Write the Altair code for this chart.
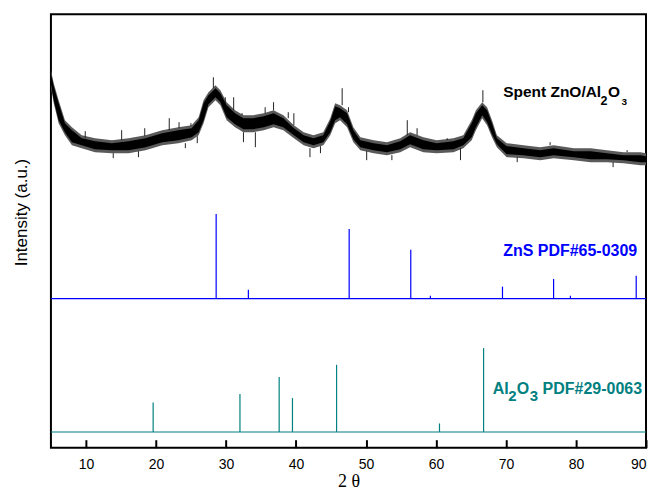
import altair as alt
import pandas as pd

# ---- Spent ZnO/Al2O3 pattern (a.u.) ----
spent_x = [5.0, 5.4, 6.1, 7.0, 8.0, 9.4, 11.3, 13.7, 16.1, 18.5, 20.9, 23.2, 25.1, 26.1,
           26.8, 27.5, 28.5, 29.2, 30.1, 31.3, 32.5, 33.9, 35.4, 36.8, 38.2, 39.7, 41.1,
           42.5, 43.9, 44.9, 45.6, 46.3, 47.3, 48.2, 49.2, 51.1, 53.0, 54.9, 56.3, 58.2,
           60.1, 62.5, 63.9, 65.1, 65.7, 66.6, 67.3, 68.0, 68.7, 70.1, 72.5, 74.9, 76.8,
           79.7, 82.1, 84.4, 86.8, 89.2, 90.0]
# outer envelope of the noisy trace (upper / lower edge)
spent_top = [378, 365, 348, 328, 321, 313, 310, 308, 310, 313, 318, 321, 323, 331,
             348, 356, 363, 358, 346, 338, 333, 333, 335, 338, 333, 323, 316,
             313, 316, 330, 345, 343, 338, 321, 311, 308, 306, 310, 316, 311,
             308, 310, 313, 328, 338, 346, 341, 328, 313, 305, 303, 301, 303,
             300, 300, 298, 296, 296, 295]
spent_bot = [361, 345, 325, 313, 303, 300, 296, 295, 295, 298, 303, 305, 308, 313,
             325, 341, 348, 343, 328, 321, 316, 316, 318, 321, 318, 310, 303,
             300, 303, 313, 325, 328, 321, 306, 298, 295, 293, 296, 301, 296,
             295, 296, 300, 308, 318, 330, 323, 311, 301, 291, 290, 288, 290,
             288, 286, 286, 285, 283, 283]
# dense dark core of the trace
core_top = [375, 362, 345, 325, 318, 310, 307, 305, 307, 310, 315, 318, 320, 328,
            345, 353, 360, 355, 343, 335, 330, 330, 332, 335, 330, 320, 313,
            310, 313, 327, 342, 340, 335, 318, 308, 305, 303, 307, 313, 308,
            305, 307, 310, 325, 335, 343, 338, 325, 310, 302, 300, 298, 300,
            297, 297, 295, 293, 293, 292]
core_bot = [364, 348, 328, 316, 306, 303, 299, 298, 298, 301, 306, 308, 311, 316,
            328, 344, 351, 346, 331, 324, 319, 319, 321, 324, 321, 313, 306,
            303, 306, 316, 328, 331, 324, 309, 301, 298, 296, 299, 304, 299,
            298, 299, 303, 311, 321, 333, 326, 314, 304, 294, 293, 291, 293,
            291, 289, 289, 288, 286, 286]

# isolated noise spikes: position, low end, high end (a.u.)
spike_x = [9.9, 15.1, 18.4, 21.9, 23.3, 25.0, 28.2, 29.9, 31.1, 32.3, 35.6, 36.8,
           38.9, 39.7, 46.6, 47.5, 55.9, 57.3, 61.6, 66.7, 76.3, 87.3,
           13.9, 17.5, 24.2, 25.9, 32.5, 34.2, 42.0, 43.5, 50.1, 53.7, 63.5, 71.6, 85.3]
spike_lo = [310, 308, 312, 318, 320, 322, 360, 345, 338, 333, 335, 338,
            330, 323, 343, 336, 313, 313, 308, 346, 303, 296,
            290, 291, 300, 305, 306, 301, 291, 295, 288, 288, 288, 286, 281]
spike_hi = [317, 318, 320, 330, 326, 325, 371, 351, 351, 335, 341, 346,
            336, 335, 360, 341, 328, 320, 310, 358, 306, 298,
            295, 297, 305, 312, 316, 316, 300, 302, 297, 293, 300, 291, 286]

# ---- ZnS PDF#65-0309 reference lines ----
zns_pos = [28.6, 33.2, 47.6, 56.4, 59.2, 69.5, 76.8, 79.2, 88.6]
zns_int = [84.7, 9.0, 69.7, 49.0, 3.0, 12.0, 19.7, 3.0, 23.0]
zns_base = 149.3

# ---- Al2O3 PDF#29-0063 reference lines ----
al_pos = [19.6, 32.0, 37.6, 39.5, 45.8, 60.5, 66.8]
al_int = [29.6, 38.0, 55.0, 34.0, 67.3, 8.6, 84.0]
al_base = 15.7

x_ticks = [10, 20, 30, 40, 50, 60, 70, 80, 90]
x_min, x_max = 5, 90
y_max = 434
PLOT_W, PLOT_H = 596, 434
tick_len = 8

ZNS_COLOR = "#0000FF"
AL_COLOR = "#008080"
FONT = "Liberation Sans"

spent_df = pd.DataFrame({"x": spent_x, "top": spent_top, "bot": spent_bot,
                         "ctop": core_top, "cbot": core_bot})
spike_df = pd.DataFrame({"x": spike_x, "lo": spike_lo, "hi": spike_hi})

seg_df = pd.concat([
    pd.DataFrame({"x": zns_pos, "y": [zns_base] * len(zns_pos),
                  "y2": [zns_base + h for h in zns_int], "c": [ZNS_COLOR] * len(zns_pos)}),
    pd.DataFrame({"x": al_pos, "y": [al_base] * len(al_pos),
                  "y2": [al_base + h for h in al_int], "c": [AL_COLOR] * len(al_pos)}),
], ignore_index=True)
tick_df = pd.DataFrame({"tx": x_ticks})

xscale = alt.Scale(domain=[x_min, x_max], nice=False, zero=False)
yscale = alt.Scale(domain=[0, y_max], nice=False, zero=False)

xaxis = alt.Axis(values=x_ticks, title="2 θ", domain=False, ticks=False,
                 labelPadding=10, labelFontSize=14, labelFont=FONT, labelColor="black",
                 grid=False, titleFont="Liberation Serif", titleFontSize=18,
                 titleFontWeight="normal", titleColor="black", titlePadding=1)
yaxis = alt.Axis(title="Intensity (a.u.)", labels=False, ticks=False, domain=False,
                 grid=False, titleFont=FONT, titleFontSize=17,
                 titleFontWeight="normal", titleColor="black", titleX=-29, titleY=198,
                 titleBaseline="middle", titleAlign="center", titleAngle=-90)

fringe = alt.Chart(spent_df).mark_area(color="#5a5a5a", interpolate="linear").encode(
    x=alt.X("x:Q", scale=xscale, axis=xaxis),
    y=alt.Y("top:Q", scale=yscale, axis=yaxis),
    y2="bot:Q",
)
core = alt.Chart(spent_df).mark_area(color="black", interpolate="linear").encode(
    x="x:Q", y="ctop:Q", y2="cbot:Q")
spikes = alt.Chart(spike_df).mark_rule(color="#222222", strokeWidth=1).encode(
    x="x:Q", y="lo:Q", y2="hi:Q")

segments = alt.Chart(seg_df).mark_rule(strokeWidth=1.2).encode(
    x="x:Q", y="y:Q", y2="y2:Q",
    color=alt.Color("c:N", scale=None),
)

zns_line = alt.Chart(pd.DataFrame({"a": [x_min], "b": [x_max], "y": [zns_base]})).mark_rule(
    color=ZNS_COLOR, strokeWidth=1.2).encode(x="a:Q", x2="b:Q", y="y:Q")
al_line = alt.Chart(pd.DataFrame({"a": [x_min], "b": [x_max], "y": [al_base]})).mark_rule(
    color=AL_COLOR, strokeWidth=1.2).encode(x="a:Q", x2="b:Q", y="y:Q")


def label(x, y, color, parts):
    """parts: list of (text, dx px, dy px, font size) for sub-/normal script pieces."""
    layers = []
    for text, dx, dy, size in parts:
        layers.append(
            alt.Chart(pd.DataFrame({"x": [x], "y": [y], "t": [text]})).mark_text(
                align="left", baseline="alphabetic", fontWeight="bold", font=FONT,
                fontSize=size, color=color, dx=dx, dy=dy,
            ).encode(x="x:Q", y="y:Q", text="t:N")
        )
    return layers


spent_lbl = label(69.6, 351, "black", [
    ("Spent ZnO/Al", 0, 0, 15.5), ("2", 97.5, 7.5, 12.5), ("O", 105, 0, 15.5),
    ("3", 118.5, 7.5, 10),
])
zns_lbl = label(69.6, 192, ZNS_COLOR, [("ZnS PDF#65-0309", 0, 0, 16)])
al_lbl = label(68.1, 53.7, AL_COLOR, [
    ("Al", 0, 0, 16), ("2", 15.5, 6.5, 15), ("O", 24, 0, 16), ("3", 37, 6.5, 15),
    ("PDF#29-0063", 50, 0, 16),
])

main = alt.layer(fringe, core, spikes, zns_line, al_line, segments,
                 *spent_lbl, *zns_lbl, *al_lbl)

# inward ticks: a top-oriented axis moved down onto the bottom frame, drawn above the marks
tick_axis = alt.Axis(orient="top", offset=-PLOT_H, values=x_ticks, labels=False,
                     domain=False, grid=False, ticks=True, tickSize=tick_len,
                     tickWidth=2, tickColor="black", title=None, zindex=2)
tick_layer = alt.Chart(tick_df).mark_point(opacity=0).encode(
    x=alt.X("tx:Q", scale=xscale, axis=tick_axis),
    y=alt.value(0),
)

chart = alt.layer(main, tick_layer).resolve_scale(x="independent").properties(
    width=PLOT_W, height=PLOT_H,
    padding={"left": 43, "top": 6, "right": 6, "bottom": 46},
    autosize=alt.AutoSizeParams(type="none"),
).configure_view(stroke="black", strokeWidth=2)

chart.save("out.html", embed_options={"renderer": "svg", "actions": False})
